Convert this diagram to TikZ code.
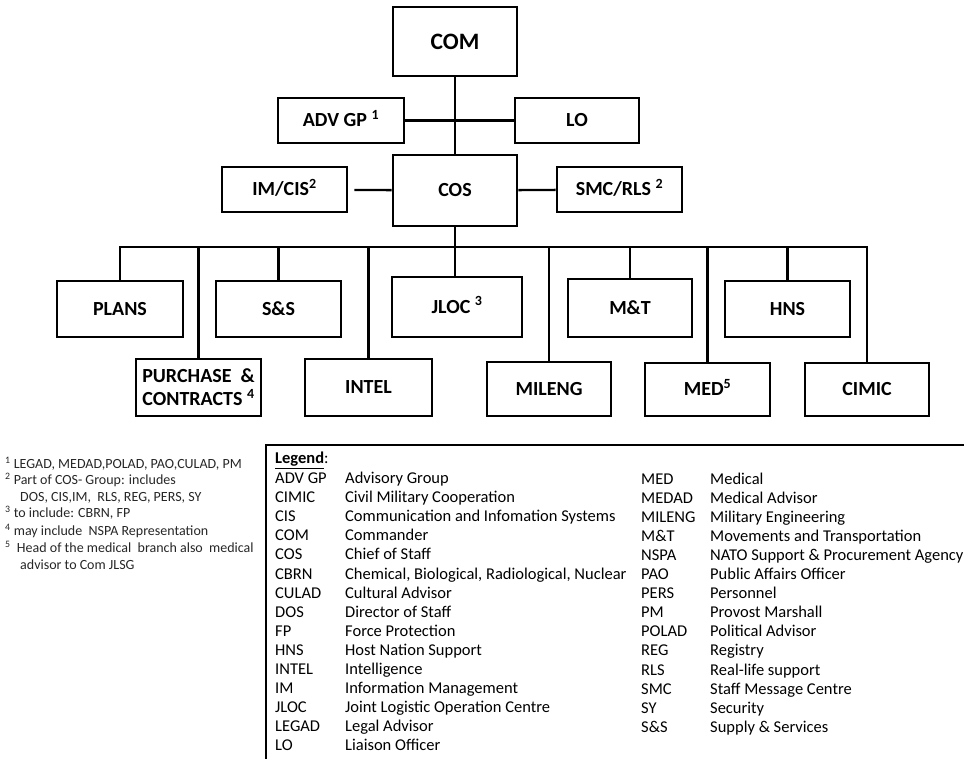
\documentclass[tikz,border=0pt]{standalone}
\usepackage{fontspec}
\setmainfont{Carlito}
\begin{document}
\begin{tikzpicture}[x=1pt,y=-1pt,
  boxbase/.style={draw, line width=2.8pt, font=\bfseries\fontsize{20}{23}\selectfont, inner sep=0pt},
  box/.style={boxbase, text height=12.9pt, text depth=0pt},
  boxtwo/.style={boxbase, align=center},
  link/.style={line width=2.3pt},
  legline/.style={line width=1.8pt},
  leg/.style={anchor=base west, font=\fontsize{16.5}{19}\selectfont, inner sep=0pt},
  fn/.style={anchor=base west, font=\fontsize{14}{16}\selectfont, inner sep=0pt, text=black!85}]
\useasboundingbox (0,0) rectangle (964,758);

% --- boxes ---
\node[box, minimum width=124pt, minimum height=69pt, font=\bfseries\fontsize{23.5}{27}\selectfont, text height=15.1pt] (com) at (455,41.5) {COM};
\node[box, minimum width=126pt, minimum height=45pt] (adv) at (341,120.5) {ADV GP \textsuperscript{1}};
\node[box, minimum width=124pt, minimum height=45pt] (lo) at (577,120.5) {LO};
\node[box, minimum width=124pt, minimum height=71pt] (cos) at (455,190.5) {COS};
\node[box, minimum width=125pt, minimum height=45pt] (imcis) at (284.5,189.5) {IM/CIS\textsuperscript{2}};
\node[box, minimum width=125pt, minimum height=45pt] (smc) at (619.5,189.5) {SMC/RLS \textsuperscript{2}};

\node[box, minimum width=126pt, minimum height=56pt] (plans) at (120,309) {PLANS};
\node[box, minimum width=125pt, minimum height=56pt] (ss) at (278.5,309) {S\&S};
\node[box, minimum width=130pt, minimum height=60pt] (jloc) at (457,307) {JLOC \textsuperscript{3}};
\node[box, minimum width=124pt, minimum height=58pt] (mt) at (630,308) {M\&T};
\node[box, minimum width=125pt, minimum height=56pt] (hns) at (787.5,309) {HNS};

\node[boxtwo, minimum width=125pt, minimum height=57pt] (purch) at (198.5,387.5) {PURCHASE \ \&\\CONTRACTS \textsuperscript{4}};
\node[box, minimum width=127pt, minimum height=57pt] (intel) at (368.5,387.5) {INTEL};
\node[box, minimum width=124pt, minimum height=54pt] (mileng) at (549,389) {MILENG};
\node[box, minimum width=125pt, minimum height=53pt] (med) at (707.5,389.5) {MED\textsuperscript{5}};
\node[box, minimum width=124pt, minimum height=53pt] (cimic) at (867,389.5) {CIMIC};

% --- connectors ---
\draw[link] (com) -- (cos);
\draw[link] (adv) -- (lo);
\draw[link, shorten >=6pt] (cos) -- (imcis);
\draw[link] (cos) -- (smc);
\coordinate (bus) at (455,247);
\draw[link] (cos.south) -- (cos.south |- jloc.north);
\foreach \n in {plans,purch,ss,intel,mileng,mt,med,hns,cimic}
  \draw[link] (\n.north) |- (bus);

% --- legend frame ---
\coordinate (lgbl) at (266,760);
\coordinate (lgtl) at (266,445);
\coordinate (lgtr) at (966,445);
\draw[legline] (lgbl) -- (lgtl) -- (lgtr);

\node[leg] (legtitle) at (275,463.5) {\underline{\textbf{Legend}}:};

\foreach \a/\b [count=\i from 0] in {ADV GP/Advisory Group, CIMIC/Civil Military Cooperation, CIS/Communication and Infomation Systems, COM/Commander, COS/Chief of Staff, CBRN/Chemical{,} Biological{,} Radiological{,} Nuclear, CULAD/Cultural Advisor, DOS/Director of Staff, FP/Force Protection, HNS/Host Nation Support, INTEL/Intelligence, IM/Information Management, JLOC/Joint Logistic Operation Centre, LEGAD/Legal Advisor, LO/Liaison Officer}{
  \node[leg] (la\i) at (275,483.5+19.1*\i) {\a};
  \node[leg] (ld\i) at (345,483.5+19.1*\i) {\b};
}
\foreach \a/\b [count=\i from 0] in {MED/Medical, MEDAD/Medical Advisor, MILENG/Military Engineering, M\&T/Movements and Transportation, NSPA/NATO Support \& Procurement Agency, PAO/Public Affairs Officer, PERS/Personnel, PM/Provost Marshall, POLAD/Political Advisor, REG/Registry, RLS/Real-life support, SMC/Staff Message Centre, SY/Security, S\&S/Supply \& Services}{
  \node[leg] (ra\i) at (641,484+19.1*\i) {\a};
  \node[leg] (rd\i) at (710,484+19.1*\i) {\b};
}

% --- footnotes ---
\node[fn] (fn1) at (5,468.5) {\textsuperscript{1} LEGAD, MEDAD,POLAD, PAO,CULAD, PM};
\node[fn] (fn2) at (5,484.5) {\textsuperscript{2} Part of COS- Group: includes};
\node[fn] (fn2b) at (20,501.5) {DOS, CIS,IM, \ RLS, REG, PERS, SY};
\node[fn] (fn3) at (5,517.5) {\textsuperscript{3} to include: CBRN, FP};
\node[fn] (fn4) at (5,535.5) {\textsuperscript{4} may include \ NSPA Representation};
\node[fn] (fn5) at (5,552.5) {\textsuperscript{5} \ Head of the medical \ branch also \ medical};
\node[fn] (fn5b) at (20,569.5) {advisor to Com JLSG};
\end{tikzpicture}
\end{document}
